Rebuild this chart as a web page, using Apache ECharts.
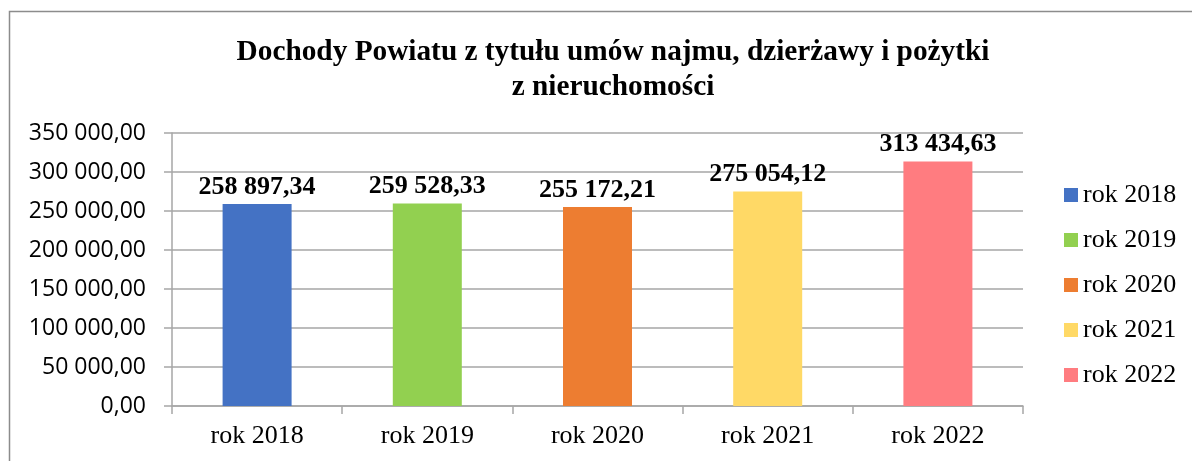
<!DOCTYPE html>
<html>
<head>
<meta charset="utf-8">
<script src="https://cdn.jsdelivr.net/npm/echarts@6/dist/echarts.min.js"></script>
<style>
    html, body { margin: 0; padding: 0; background: #fff; }
    #chart { width: 1192px; height: 461px; }
</style>
</head>
<body>
<div id="chart"></div>
<script>
    // dane z wykresu
    var years = ['rok 2018', 'rok 2019', 'rok 2020', 'rok 2021', 'rok 2022'];
    var values = [258897.34, 259528.33, 255172.21, 275054.12, 313434.63];
    var colors = ['#4472C4', '#92D050', '#ED7D31', '#FFD966', '#FF7C80'];
    var titleText = 'Dochody Powiatu z tytułu umów najmu, dzierżawy i pożytki\nz nieruchomości';

    // 258897.34 -> "258 897,34"
    function fmt(v) {
        var parts = Number(v).toFixed(2).split('.');
        var intPart = parts[0].replace(/\B(?=(\d{3})+(?!\d))/g, ' ');
        return intPart + ',' + parts[1];
    }

    var series = years.map(function (name, i) {
        return {
            name: name,
            type: 'bar',
            stack: 'all',
            barWidth: 69,
            itemStyle: { color: colors[i] },
            label: {
                show: true,
                position: 'top',
                distance: 4,
                formatter: function (p) { return fmt(p.value); },
                color: '#000',
                fontFamily: 'Liberation Serif',
                fontWeight: 'bold',
                fontSize: 26
            },
            data: years.map(function (y, j) { return j === i ? values[i] : '-'; })
        };
    });

    var chart = echarts.init(document.getElementById('chart'));
    chart.setOption({
        animation: false,
        title: {
            text: titleText,
            left: 608,
            top: 30,
            textAlign: 'center',
            textStyle: {
                fontFamily: 'Liberation Serif',
                fontWeight: 'bold',
                fontSize: 29.3,
                lineHeight: 35,
                color: '#000'
            }
        },
        legend: {
            orient: 'vertical',
            left: 1059,
            top: 175,
            itemWidth: 14,
            itemHeight: 14,
            itemGap: 15,
            icon: 'rect',
            data: years,
            textStyle: {
                fontFamily: 'Liberation Serif',
                fontSize: 26,
                lineHeight: 30,
                color: '#000'
            }
        },
        grid: { left: 172, right: 169, top: 133, bottom: 55 },
        xAxis: {
            type: 'category',
            data: years,
            axisLine: { lineStyle: { color: '#a6a6a6', width: 1.5 } },
            axisTick: { show: true, length: 8, lineStyle: { color: '#a6a6a6', width: 1.5 } },
            axisLabel: {
                margin: 17,
                color: '#000',
                fontFamily: 'Liberation Serif',
                fontSize: 26
            }
        },
        yAxis: {
            type: 'value',
            min: 0,
            max: 350000,
            interval: 50000,
            axisLine: { show: true, lineStyle: { color: '#a6a6a6', width: 1.5 } },
            axisTick: { show: true, length: 8, lineStyle: { color: '#a6a6a6', width: 1.5 } },
            splitLine: { lineStyle: { color: '#a6a6a6', width: 1.5 } },
            axisLabel: {
                margin: 26,
                formatter: fmt,
                color: '#000',
                fontFamily: 'Open Sans',
                fontSize: 23
            }
        },
        graphic: [{
            type: 'rect',
            shape: { x: 9.5, y: 11.5, width: 1400, height: 700 },
            style: { fill: null, stroke: '#8c8c8c', lineWidth: 1.5 },
            silent: true
        }],
        series: series
    });
</script>
</body>
</html>
